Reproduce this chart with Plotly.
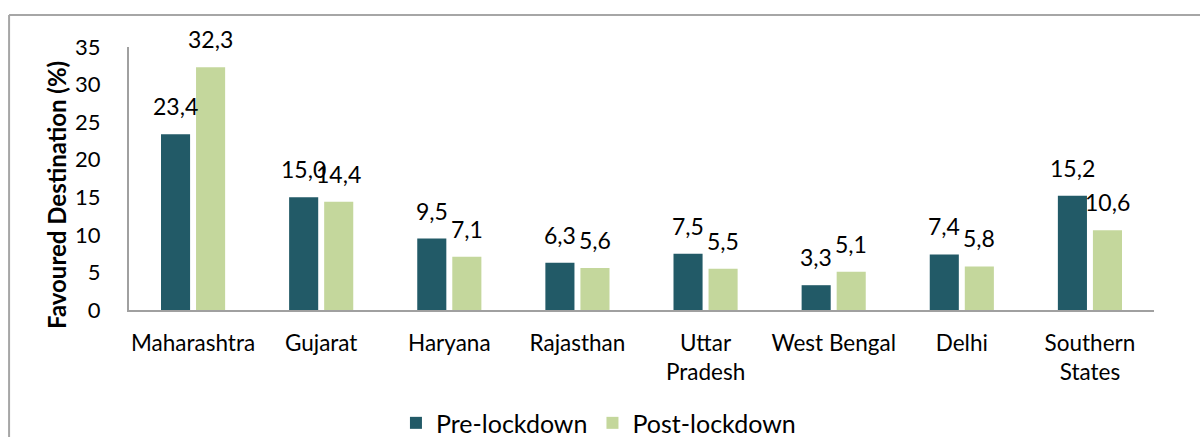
import plotly.graph_objects as go

categories = ["Maharashtra", "Gujarat", "Haryana", "Rajasthan", "Uttar<br>Pradesh",
              "West Bengal", "Delhi", "Southern<br>States"]
pre_lockdown = [23.4, 15.0, 9.5, 6.3, 7.5, 3.3, 7.4, 15.2]
post_lockdown = [32.3, 14.4, 7.1, 5.6, 5.5, 5.1, 5.8, 10.6]
y_ticks = [0, 5, 10, 15, 20, 25, 30, 35]

DARK = "#225A67"
LIGHT = "#C4D79C"
FONT = "Lato"

def fmt(v):
    return f"{v:.1f}".replace(".", ",")

fig = go.Figure()
fig.add_trace(go.Bar(name="Pre-lockdown", x=categories, y=pre_lockdown,
                     marker=dict(color=DARK, line=dict(width=0))))
fig.add_trace(go.Bar(name="Post-lockdown", x=categories, y=post_lockdown,
                     marker=dict(color=LIGHT, line=dict(width=0))))

annotations = []
for c, v in zip(categories, pre_lockdown):
    annotations.append(dict(x=c, y=v, text=fmt(v), xref="x", yref="y", showarrow=False,
                            xanchor="center", yanchor="bottom", xshift=-17.5, yshift=12,
                            font=dict(family=FONT, size=23, color="#000")))
for c, v in zip(categories, post_lockdown):
    annotations.append(dict(x=c, y=v, text=fmt(v), xref="x", yref="y", showarrow=False,
                            xanchor="center", yanchor="bottom", xshift=17.5, yshift=12,
                            font=dict(family=FONT, size=23, color="#000")))
annotations.append(dict(x=-0.0712, y=0.437, xref="paper", yref="paper", showarrow=False,
                        text="<b>Favoured Destination (%)</b>", textangle=-90,
                        xanchor="center", yanchor="middle",
                        font=dict(family=FONT, size=24, color="#000")))

shapes = [
    dict(type="line", xref="paper", yref="paper", x0=-0.117, x1=1.05, y0=1.1217, y1=1.1217,
         line=dict(color="#A6A6A6", width=2)),
    dict(type="line", xref="paper", yref="paper", x0=-0.117, x1=-0.117, y0=1.1217, y1=-0.5,
         line=dict(color="#A6A6A6", width=2)),
]

fig.update_layout(
    width=1200, height=437,
    margin=dict(l=129, r=46, t=47, b=127, autoexpand=False),
    paper_bgcolor="white", plot_bgcolor="white",
    barmode="group", bargap=0.453, bargroupgap=0.17,
    font=dict(family=FONT, color="#000"),
    legend=dict(orientation="h", x=0.458, xanchor="center", y=-0.43, yanchor="middle",
                font=dict(family=FONT, size=25, color="#000"), itemwidth=30),
    annotations=annotations, shapes=shapes,
)
fig.update_xaxes(showline=True, linecolor="#A0A0A0", linewidth=2, ticks="",
                 tickfont=dict(family=FONT, size=22.5, color="#000"), ticklabelstandoff=12,
                 showgrid=False, automargin=False)
fig.update_yaxes(range=[0, 35], tickvals=y_ticks, showline=True, linecolor="#A0A0A0",
                 linewidth=2, ticks="", showgrid=False, zeroline=False, automargin=False,
                 tickfont=dict(family=FONT, size=22, color="#000"), ticklabelstandoff=22)

fig.write_html("out.html", config={"displayModeBar": False},
               post_script="document.body.style.margin='0px';")
